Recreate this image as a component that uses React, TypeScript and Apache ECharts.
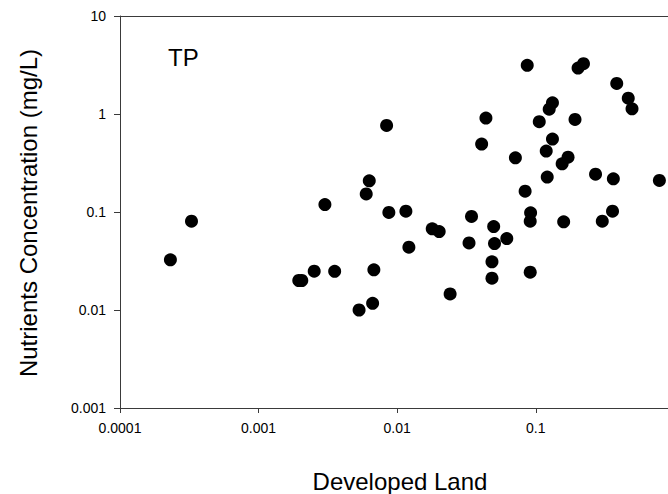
import React, { useEffect, useRef } from "react";
import * as echarts from "echarts";

// Developed land fraction (x) and TP concentration in mg/L (y)
const developedLand: number[] = [
  0.000231, 0.000328, 0.00195, 0.00205, 0.00252, 0.00301, 0.00354, 0.00531,
  0.00598, 0.00629, 0.00665, 0.00679, 0.00839, 0.00871, 0.01156, 0.01215,
  0.0179, 0.0201, 0.0241, 0.033, 0.0344, 0.0407, 0.0437, 0.0483, 0.0483,
  0.0497, 0.0504, 0.0618, 0.0713, 0.0838, 0.0868, 0.0912, 0.0918, 0.0912,
  0.106, 0.119, 0.121, 0.125, 0.132, 0.132, 0.155, 0.159, 0.171, 0.192,
  0.202, 0.221, 0.27, 0.302, 0.358, 0.363, 0.384, 0.465, 0.495, 0.78,
];
const tpConcentration: number[] = [
  0.0325, 0.0806, 0.02, 0.02, 0.0249, 0.119, 0.0248, 0.01,
  0.153, 0.208, 0.0117, 0.0257, 0.764, 0.0989, 0.102, 0.0438,
  0.0673, 0.0632, 0.0146, 0.0484, 0.09, 0.493, 0.908, 0.031, 0.0211,
  0.0711, 0.0477, 0.0536, 0.357, 0.163, 3.14, 0.0806, 0.098, 0.0243,
  0.834, 0.418, 0.227, 1.12, 1.3, 0.555, 0.31, 0.0794, 0.363, 0.88,
  2.94, 3.26, 0.243, 0.0806, 0.102, 0.218, 2.05, 1.45, 1.13, 0.21,
];
const xTickValues: number[] = [0.0001, 0.001, 0.01, 0.1];
const yTickValues: number[] = [0.001, 0.01, 0.1, 1, 10];

const xTitle = "Developed Land";
const yTitle = "Nutrients Concentration (mg/L)";
const panelLabel = "TP";

const FONT = "'Liberation Sans', Arial, sans-serif";

export default function App() {
  const ref = useRef<HTMLDivElement>(null);

  useEffect(() => {
    if (!ref.current) return;
    const chart = echarts.init(ref.current, null, { renderer: "svg" });
    const points = developedLand.map((x, i) => [x, tpConcentration[i]]);
    const fmt = (v: number) => String(+Number(v).toPrecision(1));
    const axisLineStyle = { color: "#3a3a3a", width: 1 };

    chart.setOption({
      animation: false,
      backgroundColor: "#ffffff",
      textStyle: { fontFamily: FONT },
      grid: { left: 120, right: 0, top: 16, bottom: 86, containLabel: false },
      xAxis: [
        {
          type: "log",
          logBase: 10,
          min: 0.0001,
          max: 0.9,
          position: "bottom",
          axisLine: { show: true, lineStyle: axisLineStyle },
          axisTick: {
            show: true,
            length: 5,
            lineStyle: axisLineStyle,
            customValues: xTickValues,
          },
          axisLabel: {
            show: true,
            margin: 13,
            fontSize: 14,
            color: "#000",
            fontFamily: FONT,
            customValues: xTickValues,
            formatter: fmt,
          },
          splitLine: { show: false },
          minorTick: { show: false },
        },
        {
          type: "log",
          logBase: 10,
          min: 0.0001,
          max: 0.9,
          position: "top",
          axisLine: { show: true, lineStyle: axisLineStyle },
          axisTick: { show: false },
          axisLabel: { show: false },
          splitLine: { show: false },
        },
      ],
      yAxis: {
        type: "log",
        logBase: 10,
        min: 0.001,
        max: 10,
        axisLine: { show: true, lineStyle: axisLineStyle },
        axisTick: {
          show: true,
          length: 6,
          lineStyle: axisLineStyle,
          customValues: yTickValues,
        },
        axisLabel: {
          show: true,
          margin: 14,
          fontSize: 14,
          color: "#000",
          fontFamily: FONT,
          customValues: yTickValues,
          formatter: fmt,
        },
        splitLine: { show: false },
      },
      graphic: [
        {
          type: "text",
          left: undefined,
          x: 168,
          y: 57,
          style: {
            text: panelLabel,
            fontSize: 24,
            fontFamily: FONT,
            fill: "#000",
            align: "left",
            verticalAlign: "middle",
          },
        },
        {
          type: "text",
          x: 400,
          y: 481,
          style: {
            text: xTitle,
            fontSize: 24,
            fontFamily: FONT,
            fill: "#000",
            align: "center",
            verticalAlign: "middle",
          },
        },
        {
          type: "text",
          x: 28,
          y: 213,
          rotation: Math.PI / 2,
          style: {
            text: yTitle,
            fontSize: 24,
            fontFamily: FONT,
            fill: "#000",
            align: "center",
            verticalAlign: "middle",
          },
        },
      ],
      series: [
        {
          type: "scatter",
          xAxisIndex: 0,
          yAxisIndex: 0,
          data: points,
          symbol: "circle",
          symbolSize: 13,
          itemStyle: { color: "#000000", opacity: 1 },
          emphasis: { disabled: true },
        },
      ],
    });

    return () => chart.dispose();
  }, []);

  return (
    <div
      ref={ref}
      style={{ position: "fixed", left: 0, top: 0, width: 668, height: 494 }}
    />
  );
}
